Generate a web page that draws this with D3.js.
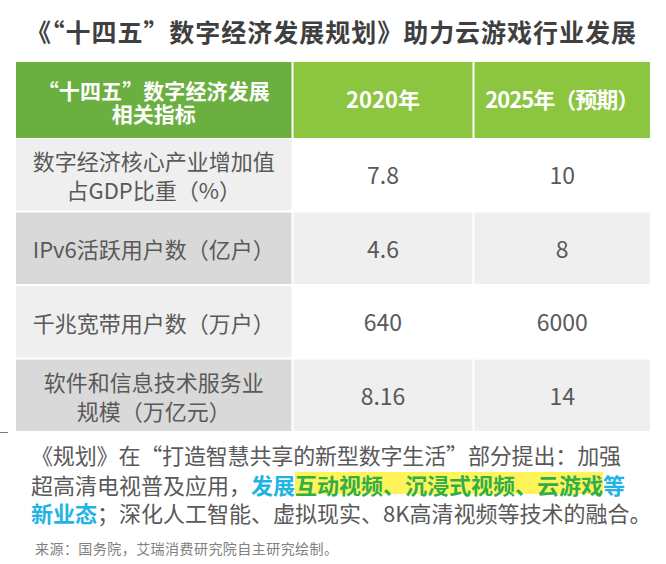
<!DOCTYPE html>
<html>
<head>
<meta charset="utf-8">
<script src="https://cdn.jsdelivr.net/npm/d3@7"></script>
<style>
  html, body { margin: 0; padding: 0; background: #fff; }
  svg text { font-family: "Noto Sans CJK SC", "Noto Sans", sans-serif; }
</style>
</head>
<body>
<svg id="chart" width="666" height="564"></svg>
<script>
//-- data --//
var title = "《“十四五”数字经济发展规划》助力云游戏行业发展";
var headers = [["“十四五”数字经济发展", "相关指标"], ["2020年"], ["2025年（预期）"]];
var indicators = [
    ["数字经济核心产业增加值", "占GDP比重（%）"],
    ["IPv6活跃用户数（亿户）"],
    ["千兆宽带用户数（万户）"],
    ["软件和信息技术服务业", "规模（万亿元）"]
];
var values2020 = ["7.8", "4.6", "640", "8.16"];
var values2025 = ["10", "8", "6000", "14"];
var noteLine1 = "《规划》在“打造智慧共享的新型数字生活”部分提出：加强";
var noteLine2 = [
    {t: "超高清电视普及应用，", c: "plain"},
    {t: "发展", c: "blue"},
    {t: "互动视频、沉浸式视频、云游戏", c: "green"},
    {t: "等", c: "blue"}
];
var noteLine3 = [
    {t: "新业态", c: "blue"},
    {t: "；深化人工智能、虚拟现实、8K高清视频等技术的融合。", c: "plain"}
];
var source = "来源：国务院，艾瑞消费研究院自主研究绘制。";
//-- data --//

var svg = d3.select("#chart");

//-- title --//
svg.append("text")
    .attr("x", 331).attr("y", 42)
    .attr("text-anchor", "middle")
    .attr("textLength", 610).attr("lengthAdjust", "spacing")
    .style("font-size", "25px").style("font-weight", "bold")
    .attr("fill", "#3f3f3f")
    .text(title);

//-- columns & rows --//
var colLeft = [16, 293.5, 474.5], colRight = [291.5, 472.5, 650];
var cx = i => (colLeft[i] + colRight[i]) / 2;

var y = d3.scaleBand()
    .domain(d3.range(indicators.length))
    .range([139, 431])
    .paddingInner(0.028);

var rows = indicators.map((d, i) => ({label: d, cells: [values2020[i], values2025[i]]}));

//-- header --//
var headFill = ["#6aaf3f", "#8cc540", "#8cc540"];
var head = svg.append("g").selectAll("g")
    .data(headers).enter().append("g");

head.append("rect")
    .attr("x", (d, i) => colLeft[i])
    .attr("y", 62)
    .attr("width", (d, i) => colRight[i] - colLeft[i])
    .attr("height", 76)
    .attr("fill", (d, i) => headFill[i]);

head.append("text")
    .attr("text-anchor", "middle")
    .attr("fill", "#fff")
    .style("font-size", "21px").style("font-weight", "bold")
    .each(function(d, i) {
        var t = d3.select(this);
        if (d.length > 1) {
            t.append("tspan").attr("x", cx(i)).attr("y", 99)
                .attr("textLength", 232).attr("lengthAdjust", "spacing").text(d[0]);
            t.append("tspan").attr("x", cx(i)).attr("y", 122).text(d[1]);
        } else {
            t.append("tspan").attr("x", cx(i)).attr("y", 108)
                .style("font-size", "22px")
                .attr("textLength", i === 2 ? 154 : null)
                .attr("lengthAdjust", "spacing").text(d[0]);
        }
    });

//-- body --//
var body = svg.append("g").selectAll("g")
    .data(rows).enter().append("g")
    .attr("transform", (d, i) => `translate(0,${y(i)})`);

body.append("rect")
    .attr("x", colLeft[0]).attr("width", colRight[0] - colLeft[0])
    .attr("height", y.bandwidth())
    .attr("fill", (d, i) => i % 2 ? "#d9d9d9" : "#efefef");

body.selectAll("rect.val")
    .data((d, i) => d.cells.map(v => ({v: v, r: i})))
    .enter().append("rect")
    .attr("class", "val")
    .attr("x", (d, j) => colLeft[j + 1])
    .attr("width", (d, j) => colRight[j + 1] - colLeft[j + 1])
    .attr("height", y.bandwidth())
    .attr("fill", d => d.r % 2 ? "#efefef" : "#ffffff");

body.append("text")
    .attr("text-anchor", "middle")
    .attr("fill", "#595959")
    .style("font-size", "22px")
    .each(function(d) {
        var t = d3.select(this);
        var mid = y.bandwidth() / 2;
        var centers = d.label.length > 1 ? [mid - 13, mid + 16] : [mid + 1.5];
        d.label.forEach((line, k) => {
            t.append("tspan").attr("x", cx(0)).attr("y", centers[k] + 8.5).text(line);
        });
    });

body.selectAll("text.val")
    .data(d => d.cells)
    .enter().append("text")
    .attr("class", "val")
    .attr("x", (d, j) => cx(j + 1))
    .attr("y", y.bandwidth() / 2 + 9.5)
    .attr("text-anchor", "middle")
    .attr("fill", "#595959")
    .style("font-size", "23px")
    .text(d => d);

//-- note text --//
svg.append("line")
    .attr("x1", 0).attr("x2", 8).attr("y1", 432.5).attr("y2", 432.5)
    .attr("stroke", "#7f7f7f").attr("stroke-width", 1);

var colors = {plain: "#595959", blue: "#1fb4e6", green: "#2fae4a"};
var note = svg.append("g");

note.append("text")
    .attr("x", 31).attr("y", 464)
    .attr("fill", colors.plain)
    .attr("textLength", 590).attr("lengthAdjust", "spacing")
    .style("font-size", "22px")
    .text(noteLine1);

function drawLine(parts, yPos) {
    var x = 31;
    parts.forEach(p => {
        var bg = null;
        if (p.c === "green") bg = note.append("rect");
        var t = note.append("text")
            .attr("x", x).attr("y", yPos)
            .attr("fill", colors[p.c])
            .style("font-size", "22px")
            .style("font-weight", p.c === "plain" ? "normal" : "bold")
            .text(p.t);
        var w = t.node().getComputedTextLength();
        if (bg) {
            bg.attr("x", x).attr("y", yPos - 22).attr("width", w).attr("height", 22)
              .attr("fill", "#fff35a");
        }
        x += w;
    });
}
drawLine(noteLine2, 494);
drawLine(noteLine3, 522);

svg.append("text")
    .attr("x", 35).attr("y", 554)
    .attr("fill", "#808080")
    .attr("textLength", 303).attr("lengthAdjust", "spacing")
    .style("font-size", "14px")
    .text(source);
</script>
</body>
</html>
